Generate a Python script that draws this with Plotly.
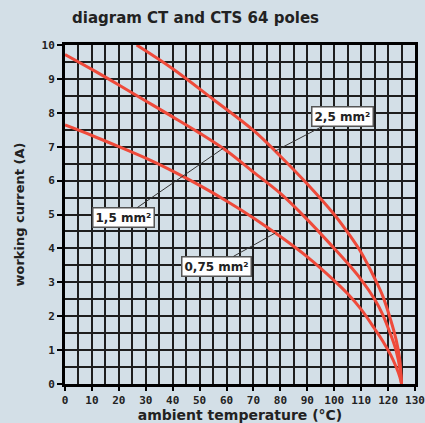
import plotly.graph_objects as go

# temperatures (°C) and working currents (A)
temp_25 = [26.6, 40, 55, 70, 80, 90, 100, 105, 110, 115, 118, 121, 123, 124.3, 125]
curr_25 = [10.0, 9.3, 8.4, 7.48, 6.72, 5.9, 5.0, 4.47, 3.88, 3.12, 2.6, 1.88, 1.3, 0.75, 0.0]

temp_15 = [0, 10, 20, 30, 40, 50, 60, 70, 80, 90, 100, 105, 110, 115, 118, 121, 123, 124.4, 125]
curr_15 = [9.72, 9.28, 8.82, 8.35, 7.88, 7.4, 6.88, 6.25, 5.62, 4.85, 4.0, 3.56, 3.08, 2.5, 2.05, 1.45, 0.98, 0.45, 0.0]

temp_075 = [0, 10, 20, 30, 40, 50, 60, 70, 80, 90, 100, 105, 110, 115, 118, 121, 123, 124.4, 125]
curr_075 = [7.64, 7.33, 7.0, 6.66, 6.28, 5.86, 5.4, 4.9, 4.35, 3.75, 3.05, 2.66, 2.2, 1.63, 1.27, 0.85, 0.5, 0.2, 0.0]

series_names = ["2,5 mm²", "1,5 mm²", "0,75 mm²"]
x_ticks = list(range(0, 131, 10))
y_ticks = list(range(0, 11, 1))

# label anchor points (on the curves) in data units
label_x = [78, 58.7, 78]
label_y = [6.87, 6.95, 4.45]
label_ax = [67, -100, -59]
label_ay = [-35, 69, 33]

RED = "#ef4a3a"
BG = "#d3dfe7"

fig = go.Figure()
for xs, ys, nm in zip([temp_25, temp_15, temp_075], [curr_25, curr_15, curr_075], series_names):
    fig.add_trace(go.Scatter(x=xs, y=ys, mode="lines", name=nm,
                             line=dict(color=RED, width=3, shape="spline", smoothing=1.0),
                             showlegend=False, hoverinfo="skip"))

for nm, lx, ly, ax, ay in zip(series_names, label_x, label_y, label_ax, label_ay):
    fig.add_annotation(x=lx, y=ly, ax=ax, ay=ay, text=nm, showarrow=True,
                       arrowhead=0, arrowwidth=1, arrowcolor="#333",
                       bgcolor="white", bordercolor="#555", borderwidth=1.5, borderpad=2,
                       font=dict(family="DejaVu Sans", size=12, color="#222", weight="bold"))

fig.add_annotation(text="diagram CT and CTS 64 poles", xref="paper", yref="paper",
                   x=(70 - 65) / 350, y=(384 - 18) / 339, xanchor="left", yanchor="middle",
                   showarrow=False,
                   font=dict(family="DejaVu Sans", size=15, color="#222", weight="bold"))

axis_font = dict(family="DejaVu Sans Mono", size=11, color="#222", weight="bold")
fig.update_xaxes(range=[0, 130], tickvals=x_ticks, ticks="outside", ticklen=4, tickwidth=2,
                 tickcolor="black", tickfont=axis_font, automargin=False,
                 showgrid=True, gridcolor="#1e1e1e", gridwidth=1.6,
                 minor=dict(dtick=5, showgrid=True, gridcolor="#1e1e1e", gridwidth=1.6),
                 showline=True, linecolor="black", linewidth=3, mirror=True, zeroline=False,
                 title=dict(text="ambient temperature (°C)", standoff=6,
                            font=dict(family="DejaVu Sans", size=14, color="#222", weight="bold")))
fig.update_yaxes(range=[0, 10], tickvals=y_ticks, ticks="outside", ticklen=5, tickwidth=2,
                 tickcolor="black", tickfont=axis_font, automargin=False,
                 showgrid=True, gridcolor="#1e1e1e", gridwidth=1.6,
                 minor=dict(dtick=0.5, showgrid=True, gridcolor="#1e1e1e", gridwidth=1.6),
                 showline=True, linecolor="black", linewidth=3, mirror=True, zeroline=False,
                 title=dict(text="working current (A)", standoff=14,
                            font=dict(family="DejaVu Sans", size=13, color="#222", weight="bold")))

fig.update_layout(width=425, height=423, paper_bgcolor=BG, plot_bgcolor=BG,
                  margin=dict(l=65, r=10, t=45, b=39), showlegend=False)

fig.write_html("out.html", config={"displayModeBar": False},
               post_script="document.body.style.margin='0';document.body.style.overflow='hidden';")
